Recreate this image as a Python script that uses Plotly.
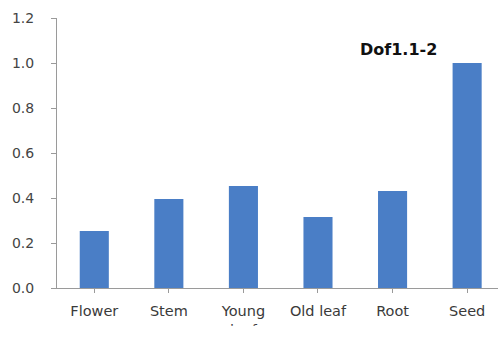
import plotly.graph_objects as go

# Relative expression of Dof1.1-2 across tissues
tissues = ["Flower", "Stem", "Young<br>leaf", "Old leaf", "Root", "Seed"]
expression = [0.253, 0.396, 0.453, 0.316, 0.431, 1.0]
y_ticks = [0.0, 0.2, 0.4, 0.6, 0.8, 1.0, 1.2]
y_tick_text = ["0.0", "0.2", "0.4", "0.6", "0.8", "1.0", "1.2"]

bar_color = "#4a7ec6"
axis_color = "#9a9a9a"
x_font = dict(family="DejaVu Sans", size=14.5, color="#3a3a3a")
y_font = dict(family="DejaVu Sans", size=14, color="#444444")

fig = go.Figure(
    go.Bar(
        x=list(range(len(tissues))),
        y=expression,
        marker=dict(color=bar_color, line=dict(width=0)),
    )
)

fig.update_layout(
    width=498,
    height=344,
    margin=dict(l=57, r=0, t=18, b=56),
    paper_bgcolor="white",
    plot_bgcolor="white",
    bargap=0.61,
    showlegend=False,
    xaxis=dict(
        range=[-0.5, 5.414],
        tickmode="array",
        tickvals=list(range(len(tissues))),
        ticktext=tissues,
        tickson="boundaries",
        ticks="outside",
        ticklen=4,
        tickcolor=axis_color,
        showline=True,
        linecolor=axis_color,
        linewidth=1,
        showgrid=False,
        zeroline=False,
        tickfont=x_font,
        ticklabelstandoff=6,
        fixedrange=True,
    ),
    yaxis=dict(
        range=[0, 1.2],
        tickmode="array",
        tickvals=y_ticks,
        ticktext=y_tick_text,
        ticks="outside",
        ticklen=5,
        tickcolor=axis_color,
        showline=True,
        linecolor=axis_color,
        linewidth=1,
        showgrid=False,
        zeroline=False,
        tickfont=y_font,
        ticklabelstandoff=14,
        fixedrange=True,
    ),
    annotations=[
        dict(
            text="<b>Dof1.1-2</b>",
            xref="paper",
            yref="paper",
            x=0.7755,
            y=0.885,
            xanchor="center",
            yanchor="middle",
            showarrow=False,
            font=dict(family="DejaVu Sans", size=16, color="#111111"),
        )
    ],
    shapes=[
        # bottom strip cropping the wrapped tissue label
        dict(
            type="rect",
            xref="paper",
            yref="paper",
            x0=-0.2,
            x1=1.05,
            y0=-0.25,
            y1=-0.14,
            fillcolor="white",
            line=dict(width=0),
            layer="above",
        )
    ],
)

fig.write_html("out.html")
